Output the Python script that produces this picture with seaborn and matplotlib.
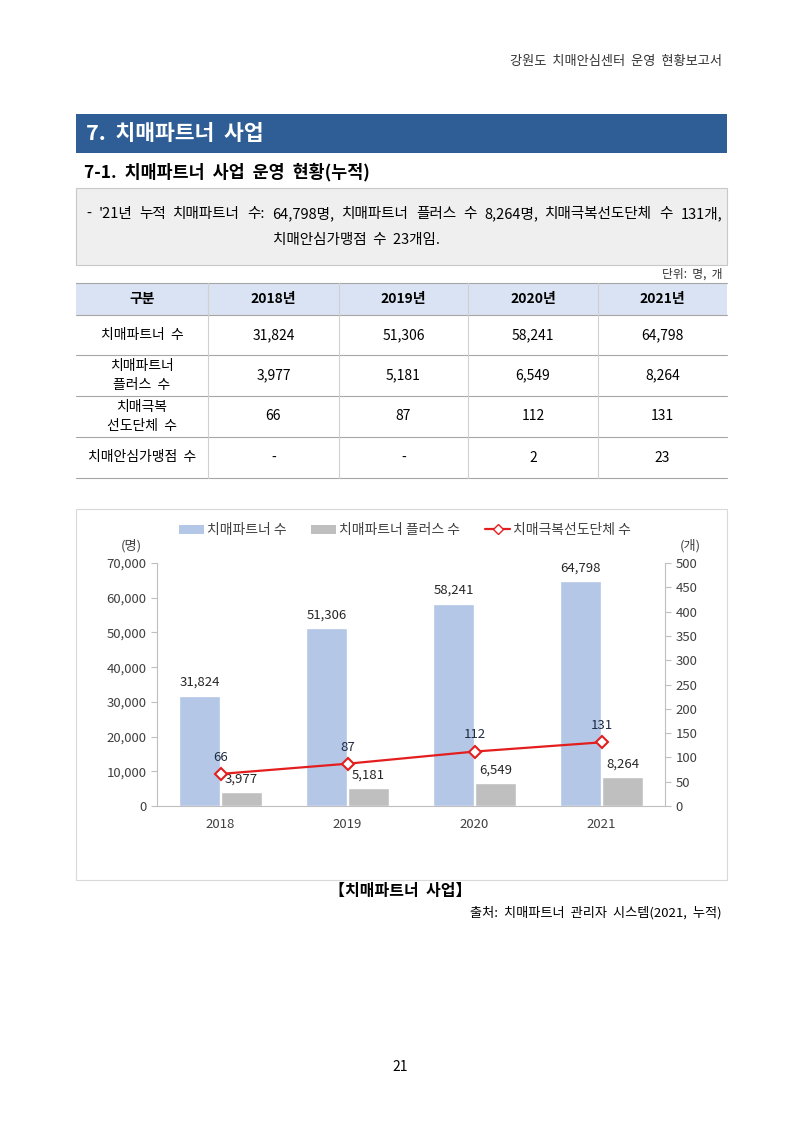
import matplotlib
matplotlib.use("Agg")
import matplotlib.pyplot as plt
from matplotlib.patches import Rectangle, Patch
from matplotlib.lines import Line2D
import pandas as pd
import seaborn as sns

sns.set_style("white")
plt.rcParams['font.family'] = ['Noto Sans CJK KR', 'DejaVu Sans']

# 데이터
years = ['2018', '2019', '2020', '2021']
partners = [31824, 51306, 58241, 64798]
plus = [3977, 5181, 6549, 8264]
groups = [66, 87, 112, 131]
stores = ['-', '-', '2', '23']

row_labels = ['치매파트너  수', '치매파트너\n플러스  수', '치매극복\n선도단체  수', '치매안심가맹점  수']
col_labels = ['구분', '2018년', '2019년', '2020년', '2021년']

bar_names = ['치매파트너 수', '치매파트너 플러스 수']
line_name = '치매극복선도단체 수'

blue = '#B4C7E7'
gray = '#BFBFBF'
red = '#E41E1E'
txt = '#262626'

fig = plt.figure(figsize=(8, 11.31), dpi=100)

# 페이지 (픽셀 좌표)
page = fig.add_axes([0, 0, 1, 1])
page.set_xlim(0, 800)
page.set_ylim(1131, 0)
page.axis('off')
renderer = fig.canvas.get_renderer()


def justify(x0, x1, y, s, **kw):
    # 단어를 x0~x1 폭에 맞춰 양쪽 정렬
    words = s.split(' ')
    objs = [page.text(0, y, w, ha='left', va='center', **kw) for w in words]
    widths = [o.get_window_extent(renderer).width for o in objs]
    gap = (x1 - x0 - sum(widths)) / (len(words) - 1)
    x = x0
    for o, w in zip(objs, widths):
        o.set_x(x)
        x += w + gap


page.text(722, 62, '강원도  치매안심센터  운영  현황보고서', ha='right', va='center',
          fontsize=9.5, color='#333333')

page.add_patch(Rectangle((76, 114), 651, 39, facecolor='#2F5E97', edgecolor='none'))
page.text(86, 134, '7.  치매파트너  사업', ha='left', va='center', fontsize=15.5,
          color='white', fontweight='bold')

page.text(84, 172, '7-1.  치매파트너  사업  운영  현황(누적)', ha='left', va='center',
          fontsize=12.5, color='black', fontweight='bold')

page.add_patch(Rectangle((76, 188), 651, 77, facecolor='#EFEFEF', edgecolor='#C8C8C8', lw=0.8))
justify(86, 722, 214,
        "- '21년 누적 치매파트너 수: 64,798명, 치매파트너 플러스 수 8,264명, 치매극복선도단체 수 131개,",
        fontsize=10.5, color='black')
page.text(273, 240, '치매안심가맹점  수  23개임.', ha='left', va='center', fontsize=10.5, color='black')

page.text(722, 274, '단위:  명,  개', ha='right', va='center', fontsize=8.5, color='#333333')

# 표
col_x = [76, 208, 339, 468, 598, 727]
row_y = [283, 315, 355, 396, 437, 478]
page.add_patch(Rectangle((76, 283), 651, 32, facecolor='#DAE3F3', edgecolor='none'))
for y in row_y:
    page.plot([76, 727], [y, y], color='#A6A6A6', lw=0.8)
for x in col_x[1:-1]:
    page.plot([x, x], [283, 478], color='#D0D0D0', lw=0.8)

for j, lab in enumerate(col_labels):
    cx = (col_x[j] + col_x[j + 1]) / 2
    page.text(cx, 299, lab, ha='center', va='center', fontsize=10, fontweight='bold', color='black')

table_vals = [
    [f'{v:,}' for v in partners],
    [f'{v:,}' for v in plus],
    [f'{v:,}' for v in groups],
    stores,
]
for i, lab in enumerate(row_labels):
    cy = (row_y[i + 1] + row_y[i + 2]) / 2
    page.text(142, cy, lab, ha='center', va='center', fontsize=10, color='black', linespacing=1.5)
    for j, v in enumerate(table_vals[i]):
        cx = (col_x[j + 1] + col_x[j + 2]) / 2
        page.text(cx, cy, v, ha='center', va='center', fontsize=10, color='black')

# 차트 테두리
page.add_patch(Rectangle((76, 509), 651, 371, facecolor='white', edgecolor='#D9D9D9', lw=0.8))

page.text(400, 891, '【치매파트너  사업】', ha='center', va='center', fontsize=11.5,
          fontweight='bold', color='black')
page.text(722, 913, '출처:  치매파트너  관리자  시스템(2021,  누적)', ha='right', va='center',
          fontsize=9.5, color='black')
page.text(400, 1067, '21', ha='center', va='center', fontsize=10, color='black')

# 차트
ax = fig.add_axes([157 / 800, 1 - 806 / 1131, (665 - 157) / 800, (806 - 563) / 1131])
df = pd.DataFrame({
    'year': years * 2,
    'value': partners + plus,
    'series': [bar_names[0]] * 4 + [bar_names[1]] * 4,
})
sns.barplot(data=df, x='year', y='value', hue='series', palette=[blue, gray],
            width=0.66, gap=0.04, ax=ax, legend=False, saturation=1)
ax.set_ylim(0, 70000)
ax.set_xlim(-0.5, 3.5)
ax.set_yticks(range(0, 70001, 10000))
ax.set_yticklabels([f'{v:,}' for v in range(0, 70001, 10000)])
ax.set_xlabel('')
ax.set_ylabel('')

for cont, vals in zip(ax.containers, [partners, plus]):
    for bar, v in zip(cont, vals):
        ax.annotate(f'{v:,}', (bar.get_x() + bar.get_width() / 2, v),
                    xytext=(0, 9.5), textcoords='offset points', ha='center', va='center',
                    fontsize=9.5, color=txt)

ax2 = ax.twinx()
sns.lineplot(x=list(range(4)), y=groups, ax=ax2, color=red, lw=1.6, marker='D',
             markersize=6.5, markerfacecolor='white', markeredgecolor=red,
             markeredgewidth=1.5)
ax2.set_ylim(0, 500)
ax2.set_yticks(range(0, 501, 50))
ax2.set_xlim(-0.5, 3.5)
for i, v in enumerate(groups):
    ax2.annotate(str(v), (i, v), xytext=(0, 12), textcoords='offset points',
                 ha='center', va='center', fontsize=9.5, color='#1F2A44')

for a in (ax, ax2):
    for s in a.spines.values():
        s.set_visible(False)
    a.tick_params(colors='#404040', labelsize=9.5, length=4, width=0.8, color='#BFBFBF')
ax.spines['left'].set_visible(True)
ax.spines['left'].set_color('#BFBFBF')
ax.spines['bottom'].set_visible(True)
ax.spines['bottom'].set_color('#BFBFBF')
ax2.spines['right'].set_visible(True)
ax2.spines['right'].set_color('#BFBFBF')
ax.tick_params(axis='x', length=0, pad=9)
ax.tick_params(axis='y', left=True)
ax2.tick_params(axis='y', right=True)
ax2.set_ylabel('')

ax.text(-0.03, 1.07, '(명)', transform=ax.transAxes, ha='right', va='center', fontsize=9.5, color='#404040')
ax2.text(1.03, 1.07, '(개)', transform=ax2.transAxes, ha='left', va='center', fontsize=9.5, color='#404040')

handles = [Patch(facecolor=blue, edgecolor='none'),
           Patch(facecolor=gray, edgecolor='none'),
           Line2D([], [], color=red, lw=1.6, marker='D', markersize=5.5,
                  markerfacecolor='white', markeredgecolor=red)]
fig.legend(handles, bar_names + [line_name], loc='center', ncol=3,
           bbox_to_anchor=(405 / 800, 1 - 530 / 1131), frameon=False, fontsize=10,
           handlelength=1.8, handleheight=0.6, handletextpad=0.2, columnspacing=1.8,
           labelcolor='#404040')

fig.savefig('out.png', dpi=100)
